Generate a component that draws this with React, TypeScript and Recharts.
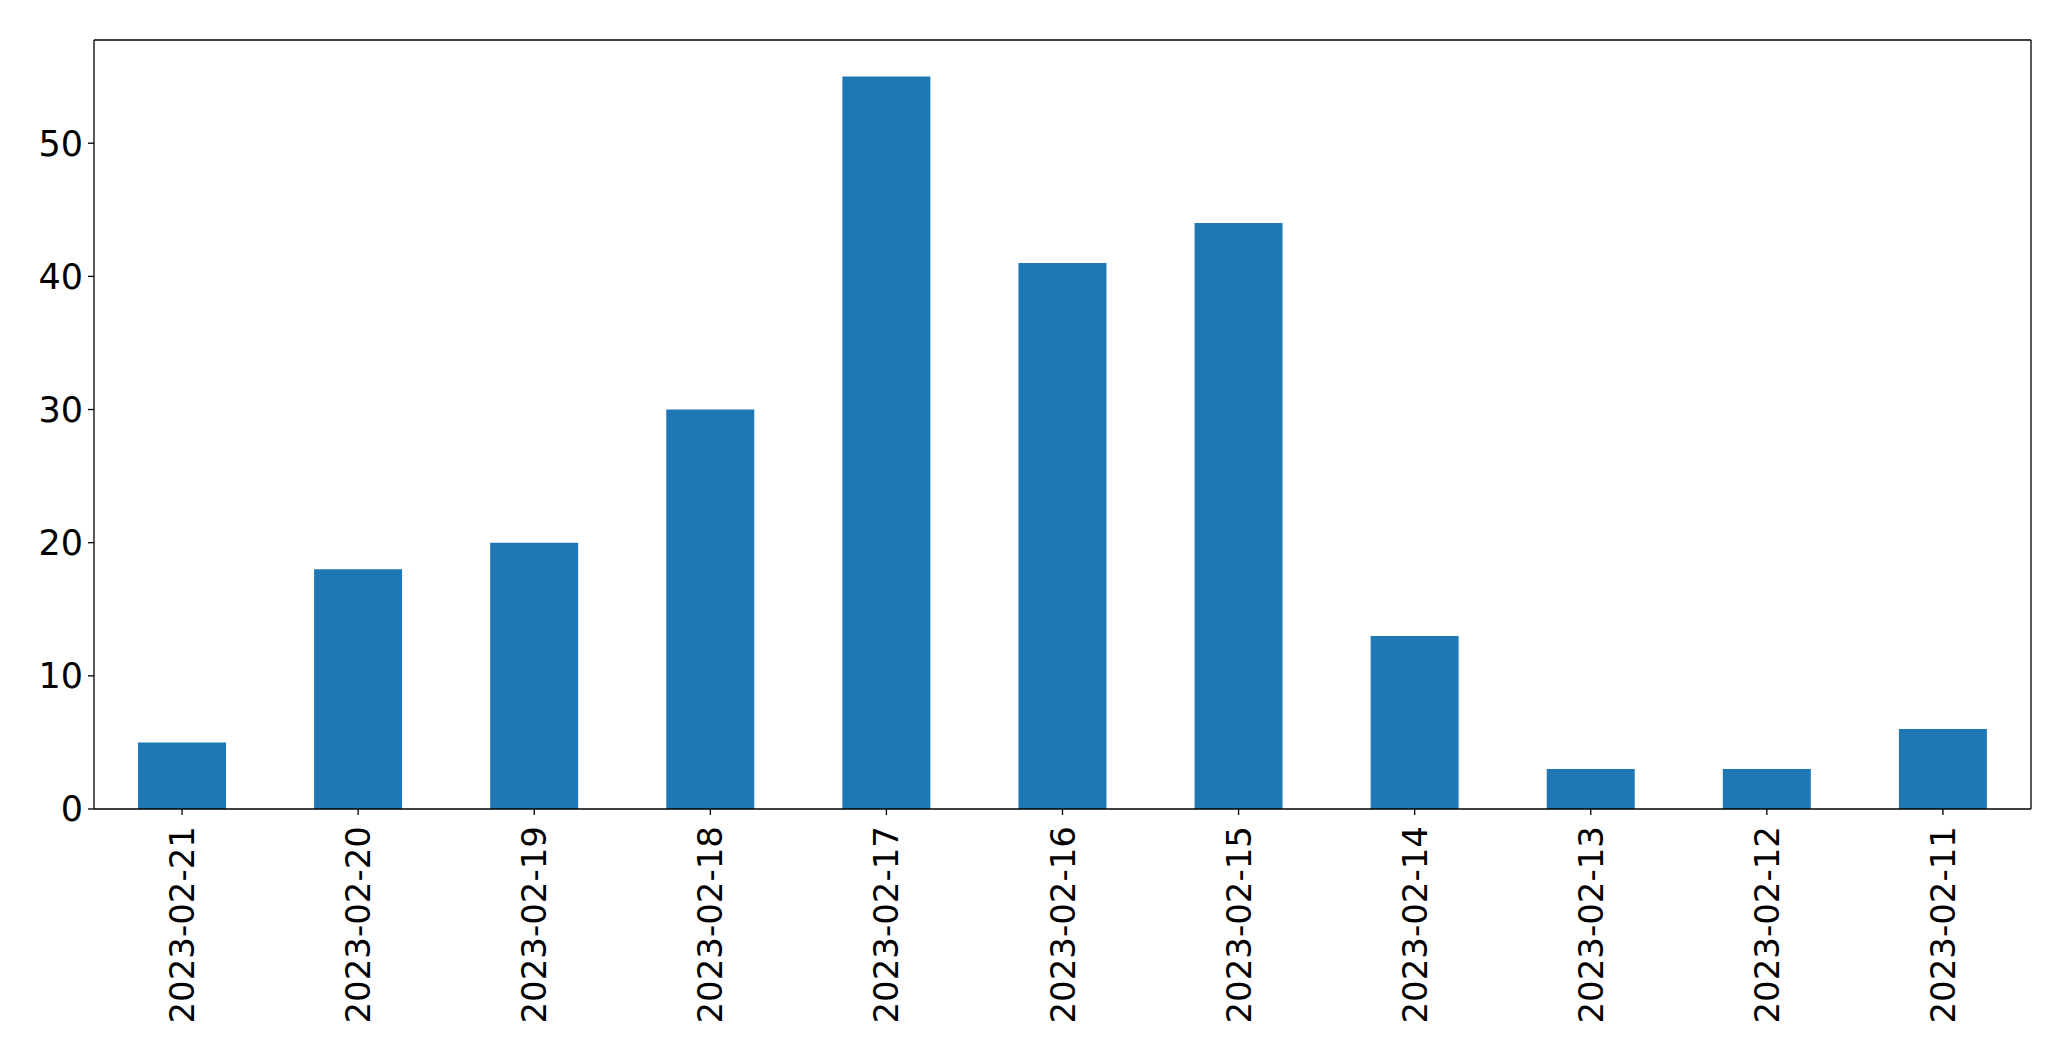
import { BarChart, Bar, XAxis, YAxis } from 'recharts';

const dates = [
  '2023-02-21',
  '2023-02-20',
  '2023-02-19',
  '2023-02-18',
  '2023-02-17',
  '2023-02-16',
  '2023-02-15',
  '2023-02-14',
  '2023-02-13',
  '2023-02-12',
  '2023-02-11',
];
const counts = [5, 18, 20, 30, 55, 41, 44, 13, 3, 3, 6];
const yTicks = [0, 10, 20, 30, 40, 50];

const data = dates.map((day, i) => ({ day, count: counts[i] }));

const FONT = 'DejaVu Sans';

const DateTick = (props: any) => {
  const { x, y, payload } = props;
  return (
    <text
      transform={`translate(${x},${y}) rotate(-90)`}
      textAnchor="end"
      dominantBaseline="central"
      fontFamily={FONT}
      fontSize={34}
      fill="#000"
    >
      {payload.value}
    </text>
  );
};

const App = () => {
  return (
    <div style={{ position: 'absolute', left: 0, top: 0, width: 2071, height: 1061, background: '#fff' }}>
      <BarChart
        width={2071}
        height={1061}
        data={data}
        margin={{ top: 39, right: 39, left: 0, bottom: 0 }}
      >
        <XAxis
          dataKey="day"
          height={252}
          interval={0}
          tick={<DateTick />}
          tickSize={6}
          tickMargin={11}
          axisLine={{ stroke: '#000', strokeWidth: 1.3 }}
          tickLine={{ stroke: '#000', strokeWidth: 1.3 }}
        />
        <XAxis
          xAxisId="top"
          dataKey="day"
          orientation="top"
          height={1}
          tick={false}
          tickLine={false}
          axisLine={{ stroke: '#000', strokeWidth: 1.3 }}
        />
        <YAxis
          width={94}
          domain={[0, 57.75]}
          ticks={yTicks}
          interval={0}
          tickSize={6}
          tickMargin={5}
          tick={{ fontFamily: FONT, fontSize: 35, fill: '#000' }}
          axisLine={{ stroke: '#000', strokeWidth: 1.3 }}
          tickLine={{ stroke: '#000', strokeWidth: 1.3 }}
        />
        <YAxis
          yAxisId="right"
          orientation="right"
          width={1}
          domain={[0, 57.75]}
          tick={false}
          tickLine={false}
          axisLine={{ stroke: '#000', strokeWidth: 1.3 }}
        />
        <Bar dataKey="count" fill="#1f77b4" barSize={88} isAnimationActive={false} />
      </BarChart>
    </div>
  );
};

export default App;
